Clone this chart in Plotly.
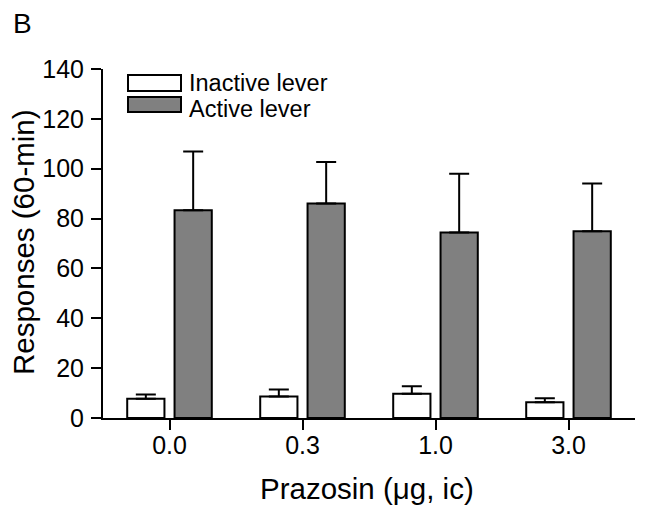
import plotly.graph_objects as go

categories = ["0.0", "0.3", "1.0", "3.0"]
inactive = [7.7, 8.6, 9.7, 6.3]
inactive_err = [1.7, 2.8, 3.0, 1.6]
active = [83.3, 86.0, 74.4, 74.9]
active_err = [23.6, 16.7, 23.6, 19.2]
y_ticks = [0, 20, 40, 60, 80, 100, 120, 140]

FONT = "Liberation Sans, Arial, Helvetica, sans-serif"
xpos = list(range(len(categories)))

# plot-area geometry (pixels)
L, R, T, B = 103, 10, 69, 93
W, H = 645, 511
PW, PH = W - L - R, H - T - B


def px(x):
    return (x - L) / PW


def py(y):
    return (H - B - y) / PH


fig = go.Figure()
fig.add_trace(go.Bar(
    x=xpos, y=inactive, name="Inactive lever",
    width=0.28, offset=-0.318,
    marker=dict(color="white", line=dict(color="black", width=2)),
    error_y=dict(type="data", array=inactive_err, arrayminus=[0] * 4, symmetric=False,
                 color="black", thickness=2, width=10),
))
fig.add_trace(go.Bar(
    x=xpos, y=active, name="Active lever",
    width=0.28, offset=0.038,
    marker=dict(color="#808080", line=dict(color="black", width=2)),
    error_y=dict(type="data", array=active_err, arrayminus=[0] * 4, symmetric=False,
                 color="black", thickness=2, width=10),
))

fig.update_layout(
    width=W, height=H,
    margin=dict(l=L, r=R, t=T, b=B),
    plot_bgcolor="white", paper_bgcolor="white",
    showlegend=False,
    font=dict(family=FONT, color="black", size=24),
    xaxis=dict(
        range=[-0.5, 3.5], tickmode="array", tickvals=xpos, ticktext=categories,
        showline=True, linecolor="black", linewidth=2,
        ticks="outside", ticklen=10, tickwidth=2, tickcolor="black",
        showgrid=False, zeroline=False, automargin=False,
        tickfont=dict(size=25), ticklabelstandoff=-6,
    ),
    yaxis=dict(
        range=[0, 140], tickmode="array", tickvals=y_ticks,
        showline=True, linecolor="black", linewidth=2,
        ticks="outside", ticklen=10, tickwidth=2, tickcolor="black",
        showgrid=False, zeroline=False, automargin=False,
        tickfont=dict(size=25), ticklabelstandoff=2,
    ),
)

# axis titles
fig.add_annotation(text="Prazosin (\u03bcg, ic)", xref="paper", yref="paper",
                   x=px(367), y=py(488), xanchor="center", yanchor="middle",
                   showarrow=False, font=dict(size=29.5))
fig.add_annotation(text="Responses (60-min)", xref="paper", yref="paper",
                   x=px(23), y=py(242), xanchor="center", yanchor="middle",
                   textangle=-90, showarrow=False, font=dict(size=29.5))

# custom legend
fig.add_shape(type="rect", xref="paper", yref="paper",
              x0=px(128), x1=px(181), y0=py(91), y1=py(75),
              fillcolor="white", line=dict(color="black", width=2))
fig.add_shape(type="rect", xref="paper", yref="paper",
              x0=px(128), x1=px(181), y0=py(112), y1=py(97),
              fillcolor="#808080", line=dict(color="black", width=2))
fig.add_annotation(text="Inactive lever", xref="paper", yref="paper",
                   x=px(187), y=py(82.5), xanchor="left", yanchor="middle",
                   showarrow=False, font=dict(size=23.5))
fig.add_annotation(text="Active lever", xref="paper", yref="paper",
                   x=px(187), y=py(109), xanchor="left", yanchor="middle",
                   showarrow=False, font=dict(size=23.5))

# panel letter
fig.add_annotation(text="B", xref="paper", yref="paper",
                   x=px(11), y=py(23), xanchor="left", yanchor="middle",
                   showarrow=False, font=dict(size=28))

fig.write_html("out.html", config={"displayModeBar": False},
               post_script="document.body.style.margin='0';")
